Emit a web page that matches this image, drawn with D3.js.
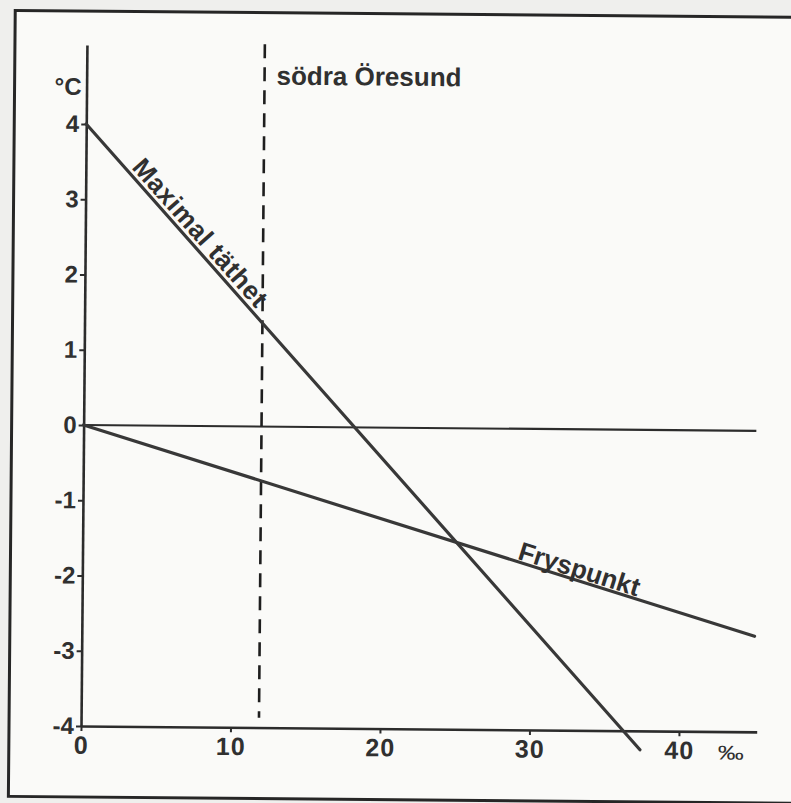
<!DOCTYPE html>
<html>
<head>
<meta charset="utf-8">
<script src="https://cdn.jsdelivr.net/npm/d3@7/dist/d3.min.js"></script>
<style>
  html, body { margin: 0; padding: 0; background: #efefed; }
  svg { display: block; }
  text { font-family: "Liberation Sans", Arial, Helvetica, sans-serif; fill: #303030; font-weight: bold; }
</style>
</head>
<body>
<svg id="chart" width="791" height="803"></svg>
<script>
// ---- data ----
const salinityTicks = [0, 10, 20, 30, 40];
const temperatureTicks = [4, 3, 2, 1, 0, -1, -2, -3, -4];
const maxDensityLine = [{ s: 0, t: 4.0 }, { s: 37.4, t: -4.25 }];
const freezingPointLine = [{ s: 0, t: 0 }, { s: 45.0, t: -2.73 }];
const zeroLine = [{ s: 0, t: 0 }, { s: 45.0, t: 0 }];
const oresundSalinity = 11.9;
const oresundTempRange = [5.08, -3.87];
const labels = {
  yUnit: "°C",
  xUnit: "‰",
  oresund: "södra Öresund",
  maxDensity: "Maximal täthet",
  freezing: "Fryspunkt"
};
const maxDensityLabelS = 2.8;
const freezingLabelS = 29.0;

// ---- layout ----
const svg = d3.select("#chart");
const ink = "#2c2c2c";
const x = d3.scaleLinear().domain([0, 45.2]).range([81, 81 + 45.2 * 14.95]);
const y = d3.scaleLinear().domain([-4, 5.05]).range([726, 726 - 9.05 * 75.25]);

const g = svg.append("g").attr("transform", `rotate(0.5, ${x(0)}, ${y(-4)})`);

// paper / frame
g.append("rect").attr("x", 9).attr("y", 11).attr("width", 800).attr("height", 786)
  .attr("fill", "#fafaf8").attr("stroke", "#262626").attr("stroke-width", 3);

// axes
const fmt = d => String(d);
const xAxis = d3.axisBottom(x).tickValues(salinityTicks).tickFormat(fmt)
  .tickSizeInner(5).tickSizeOuter(0).tickPadding(5);
const yAxis = d3.axisLeft(y).tickValues(temperatureTicks).tickFormat(fmt)
  .tickSizeInner(5).tickSizeOuter(0).tickPadding(2);

const gx = g.append("g").attr("transform", `translate(0, ${y(-4)})`).call(xAxis);
const gy = g.append("g").attr("transform", `translate(${x(0)}, 0)`).call(yAxis);
[gx, gy].forEach(a => {
  a.attr("font-family", null).attr("font-size", null);
  a.select(".domain").attr("stroke", ink).attr("stroke-width", 2.6);
  a.selectAll(".tick line").attr("stroke", ink).attr("stroke-width", 2);
  a.selectAll(".tick text").attr("fill", "#303030").style("font-size", "24px");
});
gx.selectAll(".tick text").style("font-size", "25px").attr("letter-spacing", "1px");

// unit labels
g.append("text").attr("x", x(0) - 5).attr("y", y(4) - 29).attr("text-anchor", "end")
  .style("font-size", "24px").text(labels.yUnit);
g.append("text").attr("x", x(40) + 39).attr("y", y(-4) + 28)
  .style("font-size", "20px").style("font-weight", "normal")
  .attr("textLength", 26).attr("lengthAdjust", "spacingAndGlyphs")
  .text(labels.xUnit);

// zero line
const line = d3.line().x(d => x(d.s)).y(d => y(d.t));
g.append("path").datum(zeroLine).attr("d", line)
  .attr("fill", "none").attr("stroke", ink).attr("stroke-width", 2.2);

// dashed Öresund line
g.append("line")
  .attr("x1", x(oresundSalinity)).attr("x2", x(oresundSalinity))
  .attr("y1", y(oresundTempRange[0])).attr("y2", y(oresundTempRange[1]))
  .attr("stroke", "#1e1e1e").attr("stroke-width", 2.6).attr("stroke-dasharray", "14,9");
g.append("text").attr("x", x(oresundSalinity) + 12).attr("y", y(5.05) + 38)
  .style("font-size", "26px").text(labels.oresund);

// data lines
[maxDensityLine, freezingPointLine].forEach(data => {
  g.append("path").datum(data).attr("d", line)
    .attr("fill", "none").attr("stroke", "#383838").attr("stroke-width", 3.2)
    .attr("stroke-linecap", "round");
});

// labels along lines
function lineLabel(data, s, text, offset, spacing) {
  const p0 = data[0], p1 = data[1];
  const angle = Math.atan2(y(p1.t) - y(p0.t), x(p1.s) - x(p0.s)) * 180 / Math.PI;
  const t = p0.t + (p1.t - p0.t) * (s - p0.s) / (p1.s - p0.s);
  g.append("text")
    .attr("transform", `translate(${x(s)}, ${y(t)}) rotate(${angle})`)
    .attr("y", -offset)
    .style("font-size", "26px").attr("letter-spacing", spacing + "px")
    .text(text);
}
lineLabel(maxDensityLine, maxDensityLabelS, labels.maxDensity, 4.5, 0.6);
lineLabel(freezingPointLine, freezingLabelS, labels.freezing, 2.5, 0);
</script>
</body>
</html>
